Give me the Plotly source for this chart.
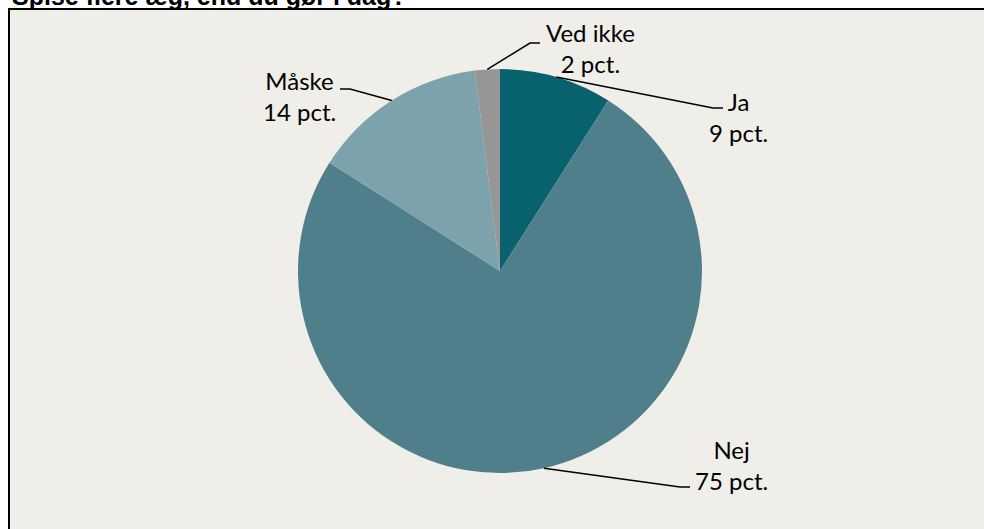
import math
import plotly.graph_objects as go

categories = ["Ja", "Nej", "Måske", "Ved ikke"]
values = [9, 75, 14, 2]
colors = ["#08626E", "#4E7F8B", "#7CA2AB", "#969696"]
title_text = "Spise flere æg, end du gør i dag?"

W, H = 984, 529
CX, CY, R = 500, 271, 202

# label layout (pixel positions): label centre, elbow, line end
label_pos = {
    "Ja": dict(cx=738, cy=117, elbow=(713, 108), end=(723, 108)),
    "Nej": dict(cx=731, cy=465, elbow=(680, 487), end=(690, 487)),
    "Måske": dict(cx=299, cy=96, elbow=(350, 89), end=(340, 89)),
    "Ved ikke": dict(cx=590, cy=48, elbow=(530, 43), end=(540, 43)),
}


def px(x):
    return x / W


def py(y):
    return 1 - y / H


fig = go.Figure()
fig.add_trace(go.Pie(
    labels=categories,
    values=values,
    marker=dict(colors=colors, line=dict(width=0)),
    sort=False,
    direction="clockwise",
    rotation=0,
    textinfo="none",
    hoverinfo="label+value",
    showlegend=False,
    domain=dict(x=[px(CX - R), px(CX + R)], y=[py(CY + R), py(CY - R)]),
))

shapes = [
    dict(type="rect", xref="paper", yref="paper",
         x0=px(9), x1=1.02, y0=-0.02, y1=py(9),
         fillcolor="#EFEEE8", line=dict(color="black", width=2), layer="below"),
]
annotations = []

total = sum(values)
cum = 0
for cat, val in zip(categories, values):
    mid = (cum + val / 2) / total * 2 * math.pi
    cum += val
    sx = CX + R * math.sin(mid)
    sy = CY - R * math.cos(mid)
    lp = label_pos[cat]
    ex, ey = lp["elbow"]
    tx, ty = lp["end"]
    shapes.append(dict(
        type="path", xref="paper", yref="paper",
        path=f"M {px(sx)},{py(sy)} L {px(ex)},{py(ey)} L {px(tx)},{py(ty)}",
        line=dict(color="black", width=1.5),
    ))
    annotations.append(dict(
        x=px(lp["cx"]), y=py(lp["cy"]), xref="paper", yref="paper",
        text=f"{cat}<br>{val} pct.", showarrow=False,
        xanchor="center", yanchor="middle", align="center",
        font=dict(family="Lato", size=24, color="black"),
    ))

annotations.append(dict(
    x=px(10), y=py(-4), xref="paper", yref="paper",
    text=f"<b>{title_text}</b>", showarrow=False,
    xanchor="left", yanchor="middle", align="left",
    font=dict(family="Liberation Sans", size=25, color="black"),
))

fig.update_layout(
    width=W, height=H,
    margin=dict(l=0, r=0, t=0, b=0),
    paper_bgcolor="white",
    shapes=shapes,
    annotations=annotations,
)

fig.write_html(
    "out.html",
    config={"displayModeBar": False},
    post_script="document.body.style.margin='0';document.body.style.overflow='hidden';",
)
